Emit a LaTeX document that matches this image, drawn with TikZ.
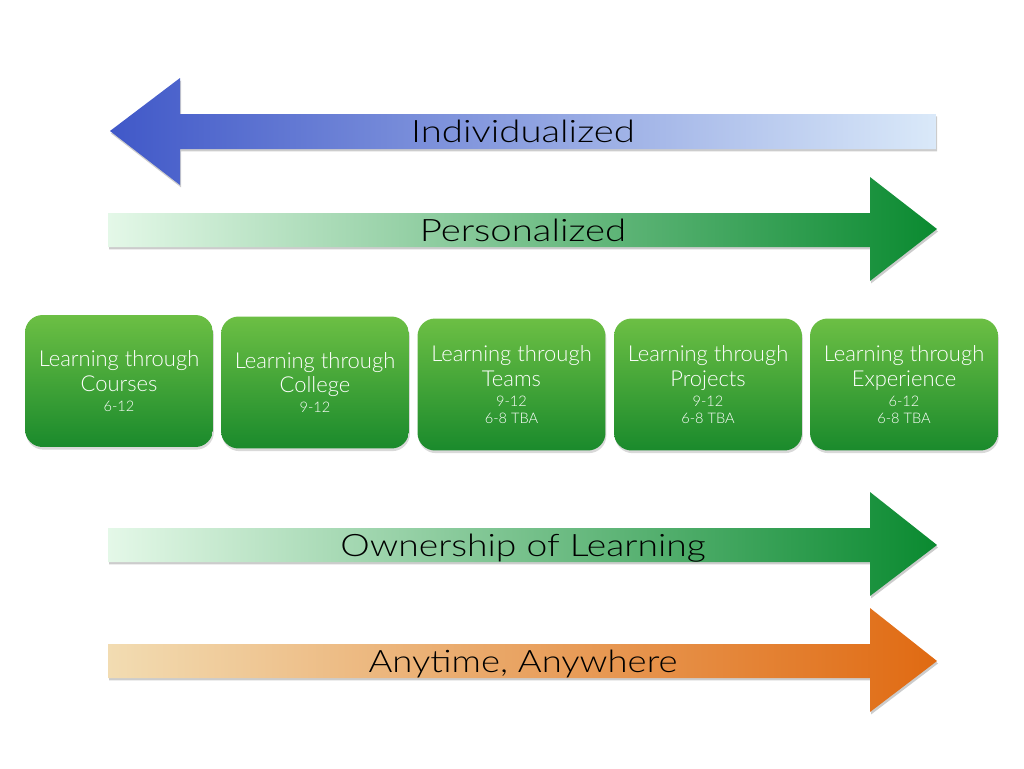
\documentclass[tikz,border=0pt]{standalone}
\usepackage{fontspec}
\setmainfont{TeX Gyre Heros}
\newfontfamily\lightfont{Lato Light}
\usetikzlibrary{shadows}
\definecolor{blueL}{HTML}{4058C8}
\definecolor{blueR}{HTML}{DAE9F9}
\definecolor{greenL}{HTML}{E4F8E8}
\definecolor{greenR}{HTML}{0A8A30}
\definecolor{orangeL}{HTML}{F2DCB2}
\definecolor{orangeR}{HTML}{E06A12}
\definecolor{boxT}{HTML}{6CBF44}
\definecolor{boxB}{HTML}{1A8A2C}
\begin{document}
\begin{tikzpicture}[x=0.02cm,y=-0.02cm,
  arrowshape/.style={drop shadow={shadow xshift=0.6pt,shadow yshift=-1.4pt,opacity=0.4}},
  arrowlabel/.style={font=\lightfont\fontsize{17.6}{20}\selectfont, text=black, inner sep=0pt, anchor=base},
  box/.style={rounded corners=10pt, minimum width=3.76cm, minimum height=2.64cm,
    top color=boxT, bottom color=boxB, text=white, align=center, inner sep=2pt,
    font=\lightfont\fontsize{12.5}{13.9}\selectfont,
    drop shadow={shadow xshift=0.5pt,shadow yshift=-1.5pt,opacity=0.3}}
]
\useasboundingbox (0,0) rectangle (1024,768);
\newcommand{\sm}[1]{{\fontsize{8.3}{9.5}\selectfont #1}}
\newcommand{\wide}[2][1.24]{\scalebox{#1}[1]{#2}}
% Individualized (left arrow)
\path[arrowshape, left color=blueL, right color=blueR]
  (110,131) -- (180,78) -- (180,114) -- (936,114) -- (936,149) -- (180,149) -- (180,185) -- cycle;
\node[arrowlabel] (ind) at (523,142.5) {\wide{Individualized}};
% Personalized
\path[arrowshape, left color=greenL, right color=greenR]
  (108,213) -- (870,213) -- (870,177) -- (937,229) -- (870,281) -- (870,247) -- (108,247) -- cycle;
\node[arrowlabel] (per) at (523,241) {\wide{Personalized}};
% Boxes
\node[box] (b1) at (119,381) {Learning through\\Courses\\[-2.6pt]\sm{6-12}};
\node[box] (b2) at (315,382.5) {Learning through\\College\\[-2.6pt]\sm{9-12}};
\node[box] (b3) at (511.5,384.5) {Learning through\\Teams\\[-2.6pt]\sm{9-12}\\[-4.3pt]\sm{6-8 TBA}};
\node[box] (b4) at (708,384.5) {Learning through\\Projects\\[-2.6pt]\sm{9-12}\\[-4.3pt]\sm{6-8 TBA}};
\node[box] (b5) at (904,384.5) {Learning through\\Experience\\[-2.6pt]\sm{6-12}\\[-4.3pt]\sm{6-8 TBA}};
% Ownership of Learning
\path[arrowshape, left color=greenL, right color=greenR]
  (108,528) -- (870,528) -- (870,492) -- (937,545) -- (870,596) -- (870,562) -- (108,562) -- cycle;
\node[arrowlabel] (own) at (523,556) {\wide[1.205]{Ownership of Learning}};
% Anytime, Anywhere
\path[arrowshape, left color=orangeL, right color=orangeR]
  (108,644) -- (870,644) -- (870,608) -- (937,661) -- (870,712) -- (870,678) -- (108,678) -- cycle;
\node[arrowlabel] (any) at (523,672) {\wide[1.18]{Anytime, Anywhere}};
\end{tikzpicture}
\end{document}
